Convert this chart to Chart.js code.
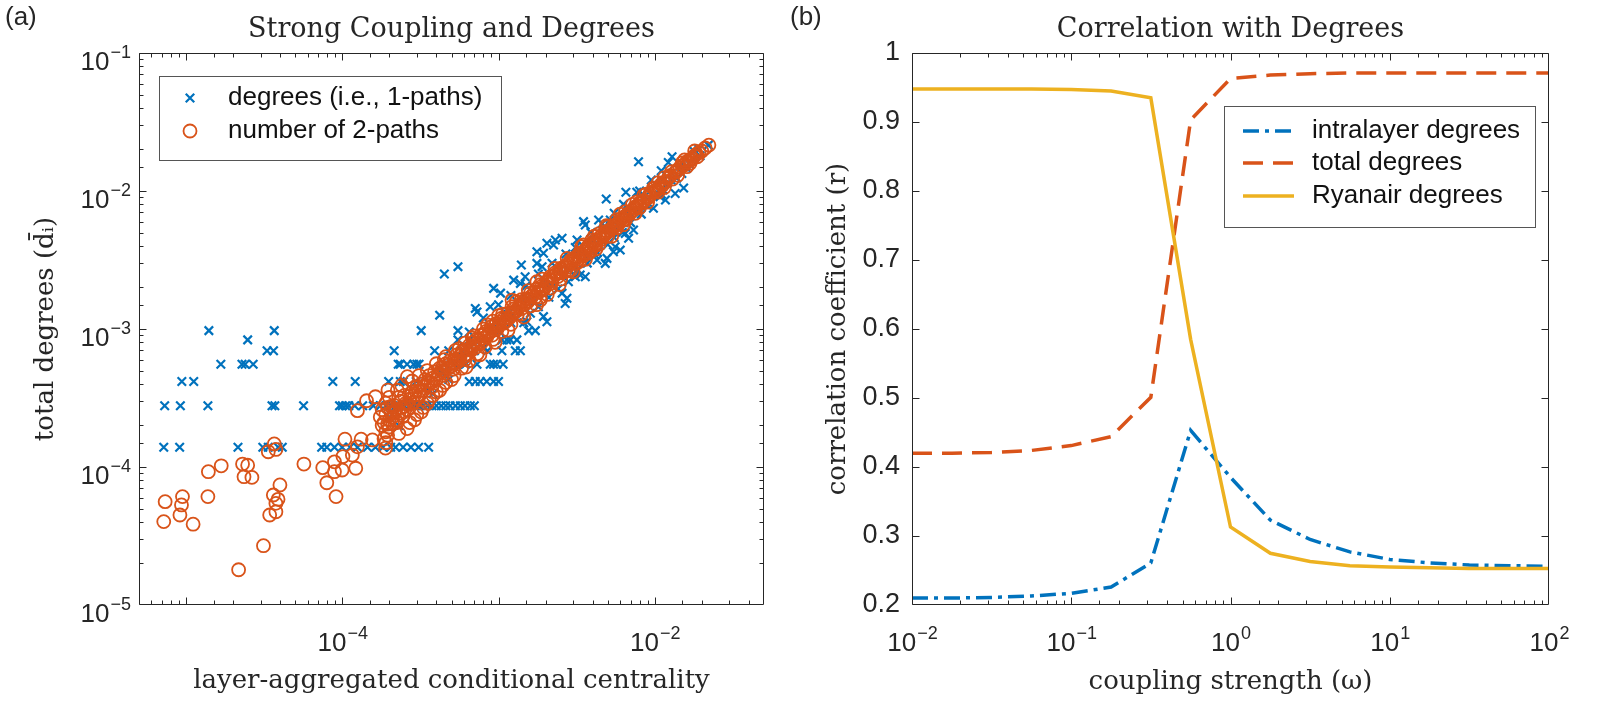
<!DOCTYPE html>
<html>
<head>
<meta charset="utf-8">
<script src="https://cdn.jsdelivr.net/npm/chart.js@4.4.1/dist/chart.umd.min.js"></script>
<style>
  body { margin: 0; background: #fff; }
  #wrap { position: relative; width: 1603px; height: 705px; overflow: hidden; background: #fff; }
  canvas { position: absolute; top: 0; }
  .panel { position: absolute; font-family: 'Liberation Sans', Arial, sans-serif; font-size: 26px; line-height: 29px; color: #262626; }
  .ttl { position: absolute; top: 12px; font-family: 'DejaVu Serif', serif; font-size: 27px; line-height: 32px; text-align: center; color: #262626; white-space: nowrap; }
</style>
</head>
<body>
<div id="wrap">
  <canvas id="left" width="800" height="705" style="left:0"></canvas>
  <canvas id="right" width="803" height="705" style="left:800px"></canvas>
  <div class="panel" style="left:5px;top:2px">(a)</div>
  <div class="panel" style="left:790px;top:2px">(b)</div>
  <div class="ttl" style="left:139px;width:625px">Strong Coupling and Degrees</div>
  <div class="ttl" style="left:912px;width:637px">Correlation with Degrees</div>
</div>
<script>
// (a) degrees: low degrees sit on discrete levels (k / N)
const degreeLevels = [1.39e-4, 2.78e-4, 4.17e-4, 5.56e-4, 6.95e-4, 8.34e-4, 9.73e-4];
const degreeRows = [
  [7.2e-6, 9.1e-6, 2.15e-5, 3.1e-5, 3.36e-5, 3.89e-5, 4.13e-5, 7.38e-5, 7.96e-5, 8.91e-5, 9.98e-5, 1.12e-4, 1.25e-4, 1.45e-4, 1.63e-4, 1.82e-4, 2.04e-4, 2.19e-4, 2.45e-4, 2.75e-4, 3.08e-4, 3.57e-4],
  [7.3e-6, 9.2e-6, 1.38e-5, 3.55e-5, 3.7e-5, 5.65e-5, 9.6e-5, 1.0e-4, 1.05e-4, 1.1e-4, 1.2e-4, 1.35e-4, 1.58e-4, 1.75e-4, 1.9e-4, 2.05e-4, 2.2e-4, 2.35e-4, 2.5e-4, 2.7e-4, 2.9e-4, 3.1e-4, 3.3e-4, 3.5e-4, 3.75e-4, 4.0e-4, 4.3e-4, 4.6e-4, 4.9e-4, 5.3e-4, 5.7e-4, 6.1e-4, 6.6e-4, 7.0e-4],
  [9.4e-6, 1.12e-5, 8.7e-5, 1.21e-4, 1.98e-4, 2.35e-4, 2.46e-4, 2.97e-4, 6.5e-4, 7.1e-4, 7.64e-4, 8.4e-4, 9.29e-4, 1.0e-3],
  [1.67e-5, 2.28e-5, 2.39e-5, 2.69e-5, 2.28e-4, 2.35e-4, 2.6e-4, 2.86e-4, 3.0e-4, 3.1e-4, 4.5e-4, 5.2e-4, 6.1e-4, 7.28e-4, 8.85e-4, 9.29e-4, 9.77e-4, 1.07e-3],
  [3.3e-5, 3.63e-5, 2.15e-4, 3.9e-4, 4.8e-4, 5.8e-4, 7.0e-4, 8.5e-4, 1.05e-3, 1.28e-3, 1.38e-3],
  [2.48e-5, 5.5e-4, 6.5e-4, 7.8e-4, 1.05e-3, 1.13e-3, 1.19e-3, 1.31e-3],
  [1.4e-5, 3.67e-5, 3.2e-4, 5.5e-4, 1.56e-3, 1.72e-3]
];
const degreeScatter = [
  [4.2e-4,1.26e-3],[4.5e-4,2.5e-3],[5.5e-4,2.83e-3],[1.2e-3,1.11e-3],[1.45e-3,1.11e-3],[1.1e-3,1.25e-3],
  [7.87e-3,1.63e-2],[4.89e-3,8.75e-3],[6.53e-3,9.8e-3],[7.67e-3,9.8e-3],[1.29e-2,1.77e-2],[1.22e-2,1.61e-2],
  [1.77e-2,1.96e-2],[1.91e-2,2.0e-2],[9.8e-3,7.5e-3],[1.17e-2,8.6e-3],[1.35e-2,9.6e-3],[1.53e-2,1.05e-2],
  [3.5e-3,6.0e-3],[3.59e-3,5.67e-3],[4.37e-3,6.17e-3],[5.19e-3,6.17e-3],[6.47e-3,4.93e-3],[6.8e-3,4.54e-3],
  [7.31e-3,5.21e-3],[5.44e-3,3.63e-3],[5.58e-3,3.94e-3],[4.94e-3,3.25e-3],[4.82e-3,2.99e-3],[6.01e-3,3.73e-3],
  [4.16e-3,3.44e-3],[4.27e-3,3.16e-3],[3.1e-3,2.39e-3],[3.33e-3,2.46e-3],[3.59e-3,2.39e-3],[2.74e-3,1.67e-3],
  [2.67e-3,1.53e-3],[2.55e-3,1.82e-3],[2.25e-3,4.06e-3],[2.55e-3,4.54e-3],[2.31e-3,4.42e-3],[3.18e-3,4.42e-3],
  [1.76e-3,3.63e-3],[2.04e-3,4.18e-3],[1.94e-3,3.54e-3],[1.4e-3,2.91e-3],[1.76e-3,2.99e-3],[1.9e-3,2.83e-3],
  [1.25e-3,2.26e-3],[1.48e-3,2.39e-3],[1.38e-3,2.14e-3],[9.3e-4,1.97e-3],[1.03e-3,1.82e-3],[1.94e-3,1.23e-3],
  [2.04e-3,1.13e-3],[1.52e-3,1.13e-3],[7.1e-4,1.41e-3],[8.85e-4,1.45e-3],[7.28e-4,1.33e-3],
  [1.6e-2,1.46e-2],[1.49e-2,1.34e-2],[1.38e-2,1.24e-2],[1.2e-2,1.14e-2],[1.13e-2,1.02e-2],[1.08e-2,9.1e-3],
  [1.95e-2,1.8e-2],[1.77e-2,1.7e-2],[2.2e-2,2.15e-2],
  [2.0e-4,2.3e-4],[2.3e-4,2.0e-4],[2.6e-4,3.0e-4],[3.0e-4,2.8e-4],[3.4e-4,3.8e-4],[3.8e-4,3.4e-4],
  [4.3e-4,4.8e-4],[4.8e-4,4.3e-4],[5.5e-4,6.2e-4],[6.2e-4,5.6e-4],[7.0e-4,7.8e-4],[8.0e-4,7.3e-4],
  [9.0e-4,1.0e-3],[1.02e-3,9.5e-4],[1.15e-3,1.28e-3],[1.3e-3,1.2e-3],[1.5e-3,1.65e-3],[1.7e-3,1.58e-3],
  [1.95e-3,2.15e-3],[2.2e-3,2.05e-3],[2.5e-3,2.7e-3],[2.85e-3,2.65e-3],[3.2e-3,3.5e-3],[3.6e-3,3.35e-3],
  [4.1e-3,4.4e-3],[4.6e-3,4.3e-3],[5.2e-3,5.6e-3],[5.9e-3,5.5e-3],[6.7e-3,7.1e-3],[7.6e-3,7.1e-3],
  [8.6e-3,9.1e-3],[9.8e-3,9.3e-3],[1.12e-2,1.18e-2],[1.27e-2,1.2e-2],[1.45e-2,1.52e-2],[1.65e-2,1.58e-2],
  [1.6e-3,1.3e-3],[1.8e-3,1.45e-3],[2.1e-3,1.7e-3],[2.4e-3,1.95e-3],[2.8e-3,2.2e-3],[3.2e-3,2.7e-3],
  [3.7e-3,3.0e-3],[4.3e-3,3.6e-3],[5.0e-3,4.1e-3],[5.5e-3,4.6e-3],[6.2e-3,5.0e-3],[7.0e-3,5.9e-3],
  [8.2e-3,6.8e-3],[9.0e-3,7.8e-3],[1.1e-2,9.5e-3],
  [6.5e-4,9.5e-4],[8.0e-4,1.2e-3],[1.0e-3,1.5e-3],[1.2e-3,1.75e-3],[1.5e-3,2.05e-3],[1.8e-3,2.5e-3],
  [2.2e-3,3.0e-3],[2.7e-3,3.5e-3],[3.1e-3,3.9e-3],[3.9e-3,5.0e-3],[4.6e-3,5.8e-3],[5.5e-3,6.9e-3],
  [6.3e-3,8.0e-3],[8.0e-3,1.0e-2],[9.5e-3,1.2e-2],[1.1e-2,1.4e-2]
];

// (a) number of 2-paths
const twoPathOutliers = [
  [7.2e-6,4.02e-5],[7.35e-6,5.61e-5],[9.14e-6,4.49e-5],[9.35e-6,5.31e-5],[9.49e-6,6.1e-5],[1.11e-5,3.85e-5],
  [1.39e-5,9.25e-5],[1.38e-5,6.1e-5],[1.68e-5,1.02e-4],[2.3e-5,1.05e-4],[2.48e-5,1.03e-4],[2.35e-5,8.51e-5],
  [2.64e-5,8.41e-5],[2.17e-5,1.8e-5],[3.13e-5,2.69e-5],[3.36e-5,1.29e-4],[3.67e-5,1.47e-4],[3.76e-5,1.34e-4],
  [3.99e-5,7.41e-5],[3.62e-5,6.27e-5],[3.76e-5,5.45e-5],[3.88e-5,5.83e-5],[3.43e-5,4.49e-5],[3.76e-5,4.74e-5],
  [5.68e-5,1.05e-4],[7.5e-5,9.89e-5],[7.96e-5,7.69e-5],[8.91e-5,9.25e-5],[9.12e-5,6.1e-5],[8.91e-5,1.09e-4],
  [9.98e-5,9.51e-5],[1.01e-4,1.19e-4],[1.04e-4,1.59e-4],[1.16e-4,1.22e-4],[1.22e-4,9.79e-5],[1.25e-4,2.56e-4],
  [1.25e-4,1.4e-4],[1.32e-4,1.59e-4],[1.43e-4,3.02e-4],[1.56e-4,1.57e-4],[1.63e-4,3.23e-4],[1.89e-4,1.37e-4],
  [1.96e-4,3.61e-4],[2.61e-4,4.51e-4]
];
const twoPathBand = [
  [1.85e-4,1.6e-4],[1.95e-4,1.7e-4],[1.9e-4,1.5e-4],[1.8e-4,2.0e-4],[1.75e-4,2.3e-4],[1.9e-4,2.9e-4],
  [2.0e-4,3.2e-4],[2.25e-4,3.6e-4],[2.4e-4,3.9e-4],
  [1.85e-4,2.1e-4],[1.9e-4,2.4e-4],[1.9e-4,1.8e-4],[1.95e-4,2.7e-4],[2.0e-4,2.2e-4],[2.0e-4,1.95e-4],
  [2.05e-4,2.5e-4],[2.1e-4,2.3e-4],[2.1e-4,2.05e-4],[2.15e-4,2.8e-4],[2.2e-4,2.6e-4],[2.2e-4,2.2e-4],
  [2.3e-4,2.45e-4],[2.35e-4,3.0e-4],[2.4e-4,2.7e-4],[2.45e-4,2.35e-4],[2.5e-4,3.3e-4],[2.55e-4,2.9e-4],
  [2.6e-4,2.6e-4],[2.7e-4,3.1e-4],[2.8e-4,3.5e-4],[2.85e-4,2.95e-4],[2.9e-4,3.3e-4],[3.0e-4,3.8e-4],
  [3.05e-4,3.15e-4],[3.1e-4,3.55e-4],[3.2e-4,4.0e-4],[3.3e-4,3.6e-4],[3.4e-4,4.3e-4],[3.5e-4,3.9e-4],
  [3.6e-4,4.6e-4],[3.7e-4,4.1e-4],[3.8e-4,4.4e-4],[3.9e-4,4.9e-4],[4.0e-4,4.3e-4],[4.1e-4,4.7e-4],
  [4.2e-4,5.2e-4],[4.35e-4,4.6e-4],[4.5e-4,5.0e-4],[4.6e-4,5.6e-4],[4.75e-4,5.2e-4],[4.9e-4,5.9e-4],
  [5.0e-4,5.4e-4],[5.2e-4,6.0e-4],[5.4e-4,6.5e-4],[5.5e-4,5.8e-4],[5.7e-4,6.4e-4],[5.9e-4,7.0e-4],
  [6.0e-4,6.3e-4],[6.2e-4,7.1e-4],[6.5e-4,7.6e-4],[6.7e-4,7.0e-4],[6.9e-4,8.0e-4],[7.2e-4,8.4e-4],
  [7.4e-4,7.8e-4],[7.7e-4,9.0e-4],[8.0e-4,8.6e-4],[8.3e-4,9.6e-4],[8.6e-4,9.2e-4],[9.0e-4,1.04e-3],
  [9.3e-4,9.8e-4],[9.7e-4,1.1e-3],[1.0e-3,1.05e-3],[1.05e-3,1.2e-3],[1.1e-3,1.13e-3],[1.15e-3,1.3e-3],
  [1.2e-3,1.25e-3],[1.25e-3,1.4e-3],[1.3e-3,1.35e-3],[1.38e-3,1.5e-3],[1.45e-3,1.5e-3],[1.5e-3,1.65e-3],
  [1.6e-3,1.65e-3],[1.7e-3,1.85e-3],[1.8e-3,1.85e-3],[1.9e-3,2.05e-3],[2.0e-3,2.05e-3],[2.1e-3,2.3e-3],
  [2.2e-3,2.25e-3],[2.35e-3,2.5e-3],[2.5e-3,2.55e-3],[2.6e-3,2.8e-3],[2.75e-3,2.8e-3],[2.9e-3,3.05e-3],
  [3.05e-3,3.15e-3],[3.2e-3,3.35e-3],[3.4e-3,3.45e-3],[3.6e-3,3.75e-3],[3.8e-3,3.8e-3],[4.0e-3,4.15e-3],
  [4.2e-3,4.2e-3],[4.45e-3,4.6e-3],[4.7e-3,4.7e-3],[5.0e-3,5.05e-3],[5.3e-3,5.3e-3],[5.6e-3,5.6e-3],
  [5.9e-3,6.0e-3],[6.3e-3,6.2e-3],[6.7e-3,6.8e-3],[7.2e-3,7.2e-3],[7.7e-3,7.8e-3],[8.3e-3,8.2e-3],
  [9.0e-3,8.9e-3],[9.6e-3,9.8e-3],[1.03e-2,1.02e-2],[1.1e-2,1.12e-2],[1.18e-2,1.17e-2],[1.26e-2,1.3e-2],
  [1.35e-2,1.36e-2],[1.45e-2,1.48e-2],[1.55e-2,1.55e-2],[1.66e-2,1.68e-2],[1.75e-2,1.72e-2],[1.85e-2,1.85e-2],
  [2.0e-2,1.95e-2],[2.22e-2,2.15e-2],
  [2.9e-4,2.2e-4],[3.2e-4,2.5e-4],[3.5e-4,2.9e-4],[3.8e-4,3.3e-4],[4.2e-4,3.6e-4],[4.6e-4,4.1e-4],
  [5.2e-4,4.6e-4],[5.8e-4,5.2e-4],[6.5e-4,5.9e-4],[7.3e-4,6.6e-4],[8.2e-4,7.4e-4],[9.2e-4,8.4e-4],
  [1.05e-3,9.6e-4],[1.2e-3,1.08e-3],[1.4e-3,1.28e-3],[1.6e-3,1.47e-3],[1.85e-3,1.7e-3],[2.15e-3,1.98e-3],
  [2.5e-3,2.3e-3],[2.9e-3,2.68e-3],[3.3e-3,3.1e-3],[3.8e-3,3.55e-3],[4.4e-3,4.1e-3],[5.0e-3,4.7e-3],
  [5.7e-3,5.4e-3],[6.5e-3,6.2e-3],[8.0e-3,7.6e-3],[1.05e-2,9.8e-3],[1.3e-2,1.22e-2],[1.6e-2,1.5e-2],
  [2.8e-4,4.2e-4],[3.1e-4,4.6e-4],[3.5e-4,5.0e-4],[4.0e-4,5.6e-4],[4.6e-4,6.3e-4],[5.3e-4,7.0e-4],
  [6.1e-4,7.9e-4],[7.0e-4,8.9e-4],[8.0e-4,1.0e-3],[9.2e-4,1.14e-3],[1.06e-3,1.28e-3],[1.22e-3,1.45e-3],
  [1.4e-3,1.63e-3],[1.6e-3,1.82e-3],[1.85e-3,2.1e-3],[2.15e-3,2.4e-3],[2.5e-3,2.75e-3],[2.9e-3,3.15e-3],
  [3.3e-3,3.55e-3],[3.8e-3,4.05e-3],[4.4e-3,4.9e-3],[5.0e-3,5.5e-3],[5.7e-3,6.2e-3],[6.5e-3,7.1e-3],
  [8.8e-3,9.5e-3],[1.15e-2,1.25e-2],[1.5e-2,1.6e-2],[1.8e-2,1.95e-2],
  [7.67e-3,8.35e-3],[9.8e-3,1.05e-2],[3.96e-3,4.42e-3],[3.5e-3,4.06e-3],[1.76e-3,2.2e-3],[1.85e-3,1.62e-3],
  [1.22e-3,1.62e-3],[1.87e-2,1.77e-2],[1.68e-2,1.59e-2],
  [4.3e-4,5.0e-4],[4.8e-4,5.5e-4],[5.3e-4,5.7e-4],[5.8e-4,6.8e-4],[6.3e-4,6.6e-4],[6.8e-4,7.5e-4],
  [7.5e-4,8.3e-4],[8.1e-4,9.2e-4],[8.8e-4,9.5e-4],[9.5e-4,1.06e-3],[1.02e-3,1.12e-3],[1.08e-3,1.18e-3],
  [1.17e-3,1.2e-3],[1.27e-3,1.32e-3],[1.35e-3,1.45e-3],[1.42e-3,1.56e-3],[1.55e-3,1.6e-3],[1.65e-3,1.75e-3],
  [1.75e-3,1.95e-3],[1.95e-3,1.95e-3],[2.05e-3,2.2e-3],[2.25e-3,2.4e-3],[2.4e-3,2.4e-3],[2.55e-3,2.7e-3],
  [2.7e-3,2.9e-3],[2.8e-3,2.65e-3],[3.0e-3,3.2e-3],[3.15e-3,3.0e-3],[3.35e-3,3.55e-3],[3.5e-3,3.4e-3],
  [3.7e-3,3.9e-3],[3.9e-3,3.7e-3],[4.1e-3,4.35e-3],[4.3e-3,4.4e-3],[4.6e-3,4.8e-3],[4.85e-3,4.9e-3],
  [5.15e-3,5.2e-3],[5.45e-3,5.6e-3],[5.75e-3,5.8e-3],[6.1e-3,6.3e-3],[6.5e-3,6.6e-3],[6.9e-3,6.9e-3],
  [7.4e-3,7.6e-3],[8.0e-3,8.2e-3],[8.6e-3,8.5e-3],[9.3e-3,9.5e-3],[1.0e-2,1.05e-2],[1.07e-2,1.06e-2],
  [1.14e-2,1.15e-2],[1.22e-2,1.24e-2],[1.4e-2,1.42e-2],[1.5e-2,1.52e-2],[1.6e-2,1.62e-2],[1.7e-2,1.68e-2],
  [1.8e-2,1.8e-2],[1.92e-2,1.9e-2],[2.1e-2,2.05e-2],
  [1.8e-4,2.6e-4],[1.95e-4,2.05e-4],[2.05e-4,2.75e-4],[2.15e-4,2.45e-4],[2.25e-4,2.1e-4],[2.3e-4,3.2e-4],
  [2.4e-4,2.45e-4],[2.5e-4,2.75e-4],[2.65e-4,2.85e-4],[2.75e-4,3.3e-4],[2.95e-4,3.55e-4],[3.15e-4,3.35e-4],
  [3.35e-4,3.9e-4],[3.55e-4,4.2e-4],[3.75e-4,3.8e-4],
  [4.5e-4,6.0e-4],[5.6e-4,7.2e-4],[6.8e-4,8.6e-4],[8.5e-4,1.07e-3],[1.0e-3,1.25e-3],[1.3e-3,1.58e-3],
  [1.55e-3,1.9e-3],[1.9e-3,2.3e-3],[2.3e-3,2.75e-3],[2.75e-3,3.25e-3],[3.4e-3,3.95e-3],[4.1e-3,4.7e-3],
  [4.9e-3,5.6e-3],[6.0e-3,6.8e-3],[7.2e-3,8.0e-3],[8.5e-3,9.3e-3],[1.05e-2,1.15e-2],[1.28e-2,1.38e-2],
  [1.55e-2,1.68e-2],
  [5.0e-4,4.3e-4],[6.2e-4,5.3e-4],[7.6e-4,6.5e-4],[9.5e-4,8.0e-4],[1.15e-3,9.8e-4],[1.45e-3,1.22e-3],
  [1.75e-3,1.5e-3],[2.05e-3,1.78e-3],[2.45e-3,2.1e-3],[3.0e-3,2.6e-3],[3.6e-3,3.2e-3],[4.2e-3,3.8e-3],
  [5.3e-3,4.7e-3],[6.3e-3,5.7e-3],[7.5e-3,6.9e-3],[9.0e-3,8.3e-3],[1.15e-2,1.06e-2],[1.4e-2,1.3e-2],
  [4.4e-4,5.3e-4],[5.1e-4,5.1e-4],[5.6e-4,6.1e-4],[6.1e-4,6.0e-4],[6.6e-4,7.2e-4],[7.1e-4,7.3e-4],
  [7.8e-4,8.0e-4],[8.4e-4,8.8e-4],[9.1e-4,9.0e-4],[9.8e-4,1.0e-3],[1.07e-3,1.1e-3],[1.13e-3,1.15e-3],
  [1.22e-3,1.3e-3],[1.32e-3,1.28e-3],[1.4e-3,1.4e-3],[1.52e-3,1.55e-3],[1.62e-3,1.72e-3],[1.72e-3,1.7e-3],
  [1.88e-3,1.9e-3],[2.02e-3,2.15e-3],[2.18e-3,2.15e-3],[2.3e-3,2.55e-3],[2.45e-3,2.6e-3],[2.65e-3,2.6e-3],
  [2.85e-3,2.95e-3],[3.1e-3,3.3e-3],[3.25e-3,3.2e-3],[3.55e-3,3.6e-3],[3.85e-3,4.0e-3],[4.15e-3,4.05e-3],
  [4.55e-3,4.45e-3],[4.9e-3,5.1e-3],[5.4e-3,5.4e-3],[5.85e-3,5.75e-3],[6.4e-3,6.5e-3],[7.0e-3,7.0e-3],
  [7.6e-3,7.5e-3],[8.4e-3,8.5e-3],[9.2e-3,9.1e-3],[1.02e-2,1.0e-2],[1.12e-2,1.1e-2],[1.24e-2,1.27e-2],
  [1.38e-2,1.39e-2],
  [2.7e-4,2.1e-4],[3.0e-4,2.4e-4],[3.3e-4,2.7e-4],[2.3e-4,1.75e-4],[2.6e-4,1.9e-4],[3.6e-4,3.1e-4],
  [4.0e-4,3.5e-4],[4.4e-4,3.9e-4]
];

// (b) correlation vs coupling strength
const coupling = [0.01, 0.0178, 0.0316, 0.0562, 0.1, 0.178, 0.316, 0.562, 1, 1.78, 3.16, 5.62, 10, 17.8, 31.6, 56.2, 100];
const intralayer = [0.210, 0.210, 0.211, 0.213, 0.217, 0.226, 0.261, 0.453, 0.385, 0.323, 0.295, 0.277, 0.266, 0.261, 0.258, 0.257, 0.256];
const totalDeg = [0.420, 0.420, 0.421, 0.424, 0.431, 0.444, 0.501, 0.903, 0.963, 0.968, 0.970, 0.971, 0.971, 0.971, 0.971, 0.971, 0.971];
const ryanair = [0.948, 0.948, 0.948, 0.948, 0.947, 0.945, 0.935, 0.585, 0.313, 0.275, 0.263, 0.257, 0.255, 0.254, 0.253, 0.253, 0.253];

// which powers of ten get a label
const leftXExp = [-4, -2];
const leftYExp = [-5, -4, -3, -2, -1];
const rightXExp = [-2, -1, 0, 1, 2];

const BLUE = '#0072BD', ORANGE = '#D95319', YELLOW = '#EDB120', AXIS = '#262626';
const SANS = "'Liberation Sans', Arial, sans-serif";
const SERIF = "'DejaVu Serif', serif";

Chart.defaults.font.family = SANS;
Chart.defaults.font.size = 26;
Chart.defaults.color = AXIS;

function pow10(v) {
  const e = Math.log10(v), r = Math.round(e);
  return Math.abs(e - r) < 1e-6 ? r : null;
}

// matlab style box with inward ticks on all four sides
const boxTicks = {
  id: 'boxTicks',
  afterDatasetsDraw(chart) {
    const {ctx, chartArea: a} = chart;
    const L = Math.round(a.left) + 0.5, R = Math.round(a.right) - 0.5;
    const T = Math.round(a.top) + 0.5, B = Math.round(a.bottom) - 0.5;
    ctx.save();
    ctx.strokeStyle = AXIS;
    ctx.lineWidth = 1;
    ctx.beginPath();
    ['x', 'y'].forEach(id => {
      const s = chart.scales[id];
      s.ticks.forEach(t => {
        const p = Math.round(s.getPixelForValue(t.value)) + 0.5;
        const len = (s.type !== 'logarithmic' || pow10(t.value) !== null) ? 7 : 4;
        if (id === 'x') {
          if (p < a.left || p > a.right) return;
          ctx.moveTo(p, B); ctx.lineTo(p, B - len);
          ctx.moveTo(p, T); ctx.lineTo(p, T + len);
        } else {
          if (p < a.top || p > a.bottom) return;
          ctx.moveTo(L, p); ctx.lineTo(L + len, p);
          ctx.moveTo(R, p); ctx.lineTo(R - len, p);
        }
      });
    });
    ctx.moveTo(L, T); ctx.lineTo(R, T); ctx.lineTo(R, B); ctx.lineTo(L, B); ctx.closePath();
    ctx.stroke();
    ctx.restore();
  }
};

// "10" with a raised exponent, placed on the scale's own pixels
const powLabels = {
  id: 'powLabels',
  afterDraw(chart, args, o) {
    const {ctx, chartArea: a} = chart;
    ctx.save();
    ctx.fillStyle = AXIS;
    ctx.textBaseline = 'alphabetic';
    ctx.textAlign = 'left';
    const draw = (e, x, y, anchor) => {
      const sup = String(e).replace('-', '\u2212');
      ctx.font = '26px ' + SANS;
      const w1 = ctx.measureText('10').width;
      ctx.font = '18px ' + SANS;
      const w2 = ctx.measureText(sup).width;
      const x0 = anchor === 'center' ? x - (w1 + w2) / 2 : x - w1 - w2;
      ctx.font = '26px ' + SANS;
      ctx.fillText('10', x0, y);
      ctx.font = '18px ' + SANS;
      ctx.fillText(sup, x0 + w1 + 1, y - 12);
    };
    (o.x || []).forEach(e => draw(e, chart.scales.x.getPixelForValue(Math.pow(10, e)), a.bottom + 46, 'center'));
    (o.y || []).forEach(e => draw(e, a.left - 9, chart.scales.y.getPixelForValue(Math.pow(10, e)) + 17, 'right'));
    ctx.restore();
  }
};

// legend drawn inside the axes, like matlab
const boxLegend = {
  id: 'boxLegend',
  afterDraw(chart, args, o) {
    const {ctx, chartArea: a} = chart;
    const x0 = Math.round(a.left + o.x) + 0.5, y0 = Math.round(a.top + o.y) + 0.5;
    ctx.save();
    ctx.fillStyle = '#fff';
    ctx.fillRect(x0, y0, o.w, o.h);
    ctx.strokeStyle = '#555';
    ctx.lineWidth = 1;
    ctx.strokeRect(x0, y0, o.w, o.h);
    ctx.font = '26px ' + SANS;
    ctx.textBaseline = 'middle';
    chart.data.datasets.forEach((ds, i) => {
      const y = a.top + o.rows[i];
      ctx.strokeStyle = ds.borderColor;
      ctx.lineWidth = ds.borderWidth;
      ctx.beginPath();
      if (o.markers) {
        const cx = a.left + o.markX, r = ds.pointRadius;
        if (ds.pointStyle === 'crossRot') {
          const d = r * Math.SQRT1_2;
          ctx.moveTo(cx - d, y - d); ctx.lineTo(cx + d, y + d);
          ctx.moveTo(cx - d, y + d); ctx.lineTo(cx + d, y - d);
        } else {
          ctx.arc(cx, y, r, 0, Math.PI * 2);
        }
      } else {
        ctx.setLineDash(ds.borderDash || []);
        ctx.moveTo(a.left + o.lineFrom, y);
        ctx.lineTo(a.left + o.lineTo, y);
      }
      ctx.stroke();
      ctx.setLineDash([]);
      ctx.fillStyle = '#111';
      ctx.fillText(ds.label, a.left + o.textX, y);
    });
    ctx.restore();
  }
};

const degreePoints = [];
degreeRows.forEach((row, k) => row.forEach(x => degreePoints.push({x: x, y: degreeLevels[k]})));
degreeScatter.forEach(p => degreePoints.push({x: p[0], y: p[1]}));
const twoPathPoints = twoPathOutliers.concat(twoPathBand).map(p => ({x: p[0], y: p[1]}));

const noGrid = { display: false, drawTicks: false };

new Chart(document.getElementById('left'), {
  type: 'scatter',
  data: {
    datasets: [
      { label: 'degrees (i.e., 1-paths)', data: degreePoints, pointStyle: 'crossRot', pointRadius: 6,
        borderColor: BLUE, backgroundColor: BLUE, borderWidth: 2.2, order: 2 },
      { label: 'number of 2-paths', data: twoPathPoints, pointStyle: 'circle', pointRadius: 6.5,
        borderColor: ORANGE, backgroundColor: 'rgba(0,0,0,0)', borderWidth: 1.8, order: 1 }
    ]
  },
  options: {
    responsive: false, animation: false, devicePixelRatio: 1,
    layout: { padding: { top: 53, right: 36, left: 0, bottom: 0 } },
    plugins: {
      legend: { display: false }, tooltip: { enabled: false },
      powLabels: { x: leftXExp, y: leftYExp },
      boxLegend: { markers: true, x: 20, y: 23, w: 342, h: 84, rows: [45, 78], markX: 51, textX: 89 }
    },
    scales: {
      x: {
        type: 'logarithmic', min: 5e-6, max: 0.05, grid: noGrid, border: { display: false },
        ticks: { autoSkip: false, maxRotation: 0, minRotation: 0, callback: () => '' },
        title: { display: true, text: 'layer-aggregated conditional centrality', color: AXIS,
          font: { family: SERIF, size: 26 }, padding: { top: 0, bottom: 8 } },
        afterFit: s => { s.height = 100; }
      },
      y: {
        type: 'logarithmic', min: 1e-5, max: 0.1, grid: noGrid, border: { display: false },
        ticks: { autoSkip: false, callback: () => '' },
        title: { display: true, text: 'total degrees (d\u0304\u1D62)', color: AXIS,
          font: { family: SERIF, size: 26 }, padding: { top: 31, bottom: 0 } },
        afterFit: s => { s.width = 139; }
      }
    }
  },
  plugins: [boxTicks, powLabels, boxLegend]
});

const lineData = ys => coupling.map((x, i) => ({x: x, y: ys[i]}));

new Chart(document.getElementById('right'), {
  type: 'line',
  data: {
    datasets: [
      { label: 'intralayer degrees', data: lineData(intralayer), borderColor: BLUE, borderWidth: 3.5,
        borderDash: [16, 6, 4, 6], pointRadius: 0, tension: 0, order: 3 },
      { label: 'total degrees', data: lineData(totalDeg), borderColor: ORANGE, borderWidth: 3.5,
        borderDash: [20, 10], pointRadius: 0, tension: 0, order: 2 },
      { label: 'Ryanair degrees', data: lineData(ryanair), borderColor: YELLOW, borderWidth: 3.5,
        pointRadius: 0, tension: 0, order: 1 }
    ]
  },
  options: {
    responsive: false, animation: false, devicePixelRatio: 1,
    layout: { padding: { top: 53, right: 54, left: 0, bottom: 0 } },
    plugins: {
      legend: { display: false }, tooltip: { enabled: false },
      powLabels: { x: rightXExp },
      boxLegend: { markers: false, x: 312, y: 53, w: 311, h: 121, rows: [78, 110, 143], lineFrom: 331, lineTo: 382, textX: 400 }
    },
    scales: {
      x: {
        type: 'logarithmic', min: 0.01, max: 100, grid: noGrid, border: { display: false },
        ticks: { autoSkip: false, maxRotation: 0, minRotation: 0, callback: () => '' },
        title: { display: true, text: 'coupling strength (\u03C9)', color: AXIS,
          font: { family: SERIF, size: 26 }, padding: { top: 0, bottom: 7 } },
        afterFit: s => { s.height = 100; }
      },
      y: {
        min: 0.2, max: 1, grid: noGrid, border: { display: false },
        ticks: { stepSize: 0.1, padding: 12, font: { size: 27 }, callback: v => String(Math.round(v * 10) / 10) },
        title: { display: true, text: 'correlation coefficient (r)', color: AXIS,
          font: { family: SERIF, size: 26 }, padding: { top: 23, bottom: 0 } },
        afterFit: s => { s.width = 112; }
      }
    }
  },
  plugins: [boxTicks, powLabels, boxLegend]
});
</script>
</body>
</html>
